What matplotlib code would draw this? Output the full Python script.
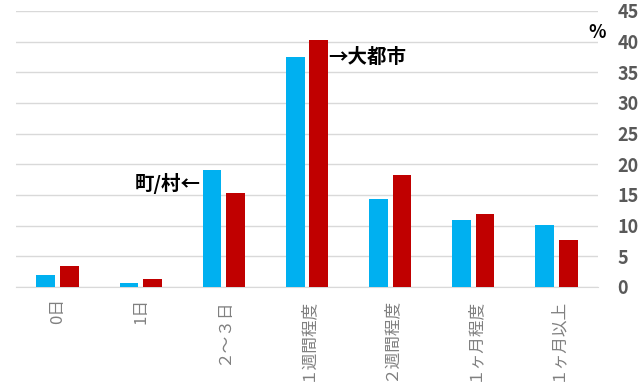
import numpy as np
import matplotlib
matplotlib.use('Agg')
import matplotlib.pyplot as plt

plt.rcParams['font.family'] = ['Noto Sans CJK JP', 'DejaVu Sans']

# データ (%)
categories = ['0日', '1日', '２～３日', '１週間程度', '２週間程度', '１ヶ月程度', '１ヶ月以上']
town_village = [1.9, 0.7, 19.1, 37.5, 14.4, 10.9, 10.1]   # 町/村
big_city = [3.4, 1.3, 15.3, 40.3, 18.2, 11.9, 7.6]        # 大都市
yticks = [0, 5, 10, 15, 20, 25, 30, 35, 40, 45]

fig = plt.figure(figsize=(6.4, 3.92), dpi=100)
ax = fig.add_axes([16 / 640, 1 - 287 / 392, 582 / 640, 276 / 392])

x = np.arange(len(categories))
w = 0.225
off = 0.142
ax.bar(x - off, town_village, width=w, color='#00B0F0', zorder=3)
ax.bar(x + off, big_city, width=w, color='#C00000', zorder=3)

ax.set_xlim(-0.5, len(categories) - 0.5)
ax.set_ylim(0, 45)
ax.yaxis.tick_right()
ax.set_yticks(yticks)
ax.set_yticklabels([str(v) for v in yticks], fontsize=13, fontweight='bold',
                   color='#595959')
ax.tick_params(axis='y', length=0, pad=14)

ax.set_xticks(x)
ax.set_xticklabels(categories, rotation=90, va='top', ha='center',
                   fontsize=12, color='#808080')
ax.tick_params(axis='x', length=0, pad=8)

ax.grid(axis='y', color='#d9d9d9', linewidth=1, zorder=0)
for s in ['top', 'left', 'right']:
    ax.spines[s].set_visible(False)
ax.spines['bottom'].set_color('#d9d9d9')

# 注記
ax.text(1.72, 16.8, '町/村←', ha='right', va='center', fontsize=14,
        fontweight='bold', color='black')
ax.text(3.26, 37.5, '→大都市', ha='left', va='center', fontsize=14,
        fontweight='bold', color='black')
fig.text(597 / 640, 1 - 32 / 392, '%', ha='center', va='center',
         fontsize=13, fontweight='bold', color='black')

fig.savefig('out.png', dpi=100)
